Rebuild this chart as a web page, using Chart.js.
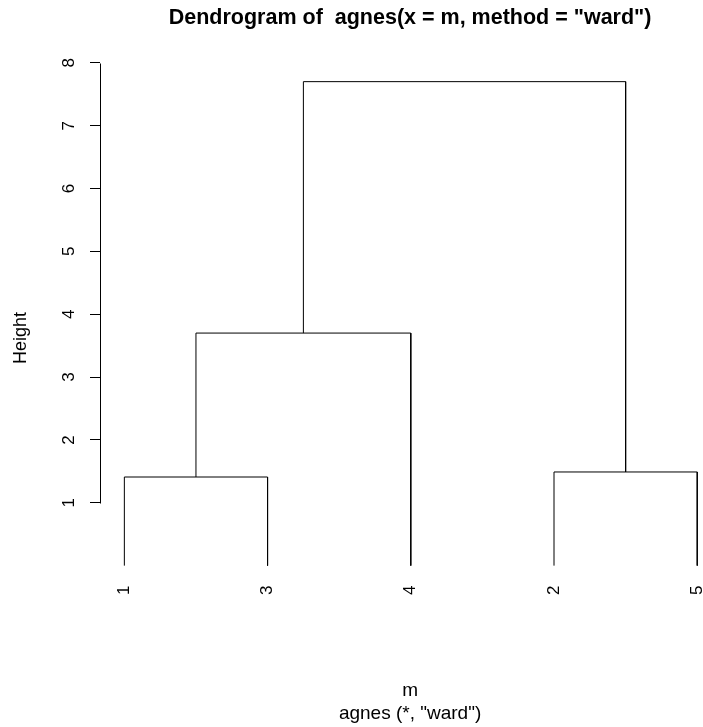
<!DOCTYPE html>
<html>
<head>
<meta charset="utf-8">
<script src="https://cdn.jsdelivr.net/npm/chart.js@4"></script>
<style>
  html, body { margin: 0; padding: 0; background: #fff; overflow: hidden; }
  canvas { display: block; }
</style>
</head>
<body>
<canvas id="dendro" width="730" height="727"></canvas>
<script>
// leaves in plotting order
const leafLabels = ["1", "3", "4", "2", "5"];
// merge steps: negative = leaf position (1-based), positive = earlier step
const mergeLeft = [-1, -4, 1, 3];
const mergeRight = [-2, -5, -3, 2];
const mergeHeight = [1.41, 1.49, 3.70, 7.70];
const heightTicks = [1, 2, 3, 4, 5, 6, 7, 8];

const FONT = "'Liberation Sans', Arial, sans-serif";

// x position and height of a node (leaf or merge step)
const stepX = [];
function nodeX(id) {
    return id < 0 ? -id : stepX[id - 1];
}
function nodeH(id) {
    return id < 0 ? 0 : mergeHeight[id - 1];
}

const datasets = mergeHeight.map((h, i) => {
    const l = mergeLeft[i], r = mergeRight[i];
    const xl = nodeX(l), xr = nodeX(r);
    stepX.push((xl + xr) / 2);
    return {
        data: [
            { x: xl, y: nodeH(l) },
            { x: xl, y: h },
            { x: xr, y: h },
            { x: xr, y: nodeH(r) }
        ],
        borderColor: "#000",
        borderWidth: 1,
        pointRadius: 0,
        showLine: true,
        fill: false,
        tension: 0
    };
});

// R style axis line, only from first to last tick
const axisLine = {
    id: "axisLine",
    afterDraw(chart) {
        const y = chart.scales.y;
        const ctx = chart.ctx;
        const x = Math.round(chart.chartArea.left) + 0.5;
        ctx.save();
        ctx.strokeStyle = "#000";
        ctx.lineWidth = 1;
        ctx.beginPath();
        ctx.moveTo(x, Math.round(y.getPixelForValue(heightTicks[0])) + 0.5);
        ctx.lineTo(x, Math.round(y.getPixelForValue(heightTicks[heightTicks.length - 1])) + 0.5);
        ctx.stroke();
        ctx.restore();
    }
};

new Chart(document.getElementById("dendro"), {
    type: "scatter",
    data: { datasets },
    options: {
        responsive: false,
        animation: false,
        layout: { padding: 0 },
        plugins: {
            legend: { display: false },
            tooltip: { enabled: false },
            title: {
                display: true,
                text: 'Dendrogram of  agnes(x = m, method = "ward")',
                fullSize: false,
                color: "#000",
                font: { family: FONT, size: 21.5, weight: "bold", lineHeight: 1.2 },
                padding: { top: 5, bottom: 32 }
            },
            subtitle: {
                display: true,
                position: "bottom",
                fullSize: false,
                text: ["m", 'agnes (*, "ward")'],
                color: "#000",
                font: { family: FONT, size: 19, lineHeight: "23px" },
                padding: { top: 65.6, bottom: 2 }
            }
        },
        scales: {
            x: {
                type: "linear",
                min: 0.83,
                max: 5.16,
                position: { y: 0 },
                grid: { display: false },
                border: { display: false },
                afterBuildTicks(scale) {
                    scale.ticks = leafLabels.map((_, i) => ({ value: i + 1 }));
                },
                ticks: {
                    minRotation: 90,
                    maxRotation: 90,
                    padding: 12,
                    color: "#000",
                    font: { family: FONT, size: 17 },
                    callback: (v) => leafLabels[v - 1]
                }
            },
            y: {
                min: -0.76,
                max: 8,
                afterFit(scale) { scale.width = 100; },
                afterBuildTicks(scale) {
                    scale.ticks = heightTicks.map(v => ({ value: v }));
                },
                grid: {
                    drawOnChartArea: false,
                    drawTicks: true,
                    tickLength: 10,
                    color: "#000",
                    tickColor: "#000"
                },
                border: { display: false },
                ticks: {
                    minRotation: 90,
                    maxRotation: 90,
                    crossAlign: "center",
                    padding: 16,
                    color: "#000",
                    font: { family: FONT, size: 17 }
                },
                title: {
                    display: true,
                    text: "Height",
                    color: "#000",
                    font: { family: FONT, size: 18 },
                    padding: { top: 10.7, bottom: 0 }
                }
            }
        }
    },
    plugins: [axisLine]
});
</script>
</body>
</html>
